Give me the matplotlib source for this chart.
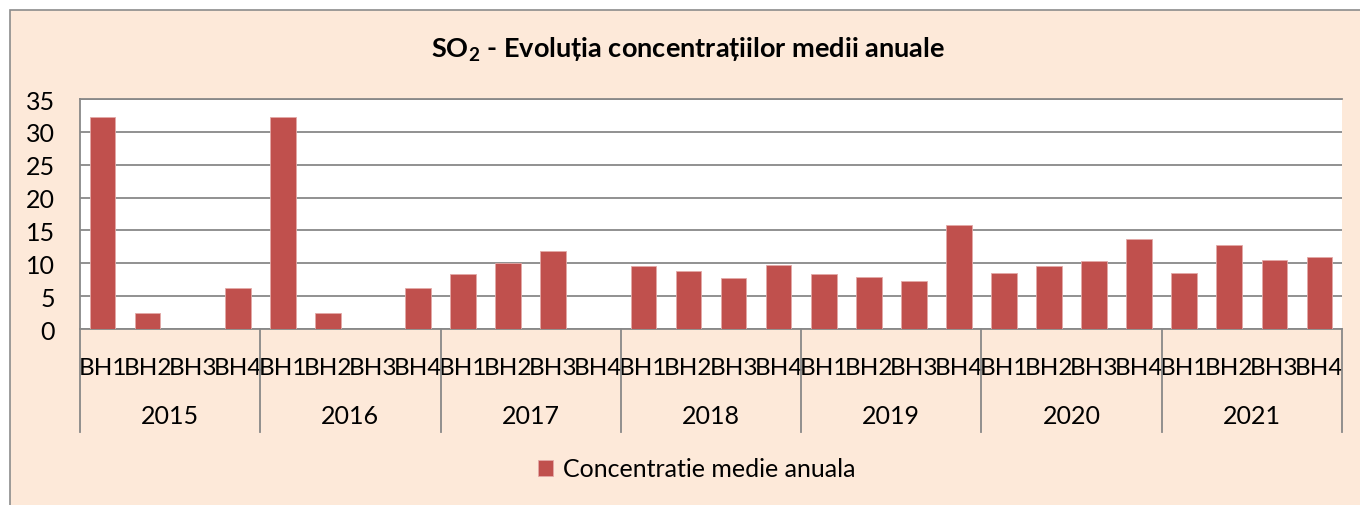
import matplotlib
matplotlib.use("Agg")
import matplotlib.pyplot as plt
import matplotlib.transforms as mtransforms
from matplotlib.patches import Rectangle
import numpy as np

plt.rcParams['font.family'] = ['Lato', 'Noto Sans', 'DejaVu Sans']
plt.rcParams['mathtext.fontset'] = 'custom'
plt.rcParams['mathtext.rm'] = 'Lato'
plt.rcParams['mathtext.bf'] = 'Lato:bold'

years = ['2015', '2016', '2017', '2018', '2019', '2020', '2021']
stations = ['BH1', 'BH2', 'BH3', 'BH4']
values_2015 = [32.2, 2.4, 0, 6.2]
values_2016 = [32.2, 2.4, 0, 6.2]
values_2017 = [8.4, 10.0, 11.9, 0]
values_2018 = [9.6, 8.8, 7.8, 9.8]
values_2019 = [8.3, 7.9, 7.3, 15.9]
values_2020 = [8.5, 9.6, 10.35, 13.7]
values_2021 = [8.5, 12.8, 10.5, 10.9]
series_name = 'Concentratie medie anuala'
title = r'SO$_\mathbf{2}$ - Evoluția concentrațiilor medii anuale'
yticks = [0, 5, 10, 15, 20, 25, 30, 35]

all_values = (values_2015 + values_2016 + values_2017 + values_2018 +
              values_2019 + values_2020 + values_2021)
labels = stations * len(years)

W, H = 1360, 506
fig = plt.figure(figsize=(W / 100, H / 100), dpi=100, facecolor='white')

bg = '#FDE9D9'
fig.patches.append(Rectangle((10 / W, -0.05), 1.2, (H - 11) / H + 0.05,
                             transform=fig.transFigure, facecolor=bg,
                             edgecolor='#8C8C8C', linewidth=1.2, zorder=-10))

ax = fig.add_axes([80 / W, 1 - 330 / H, (1342 - 80) / W, 230 / H])
ax.set_zorder(2)
ax.set_facecolor('white')
grid_c = '#888888'
x = np.arange(len(all_values))
bars = ax.bar(x, all_values, width=0.57, color='#C0504D', edgecolor='#E3A9A7',
              linewidth=0.6, zorder=3, label=series_name)
ax.set_xlim(-0.5, len(all_values) - 0.5)
ax.set_ylim(0, 35)
ax.set_yticks(yticks)
ax.set_yticklabels([str(v) for v in yticks], fontsize=18)
ax.yaxis.grid(True, color=grid_c, linewidth=1.3, zorder=1)
ax.tick_params(axis='y', length=0, pad=18)

ax.set_xticks(x)
ax.set_xticklabels(labels, fontsize=17.5)
ax.tick_params(axis='x', length=0, pad=20)

ax.spines['right'].set_visible(False)
for s in ['left', 'bottom', 'top']:
    ax.spines[s].set_color(grid_c)
    ax.spines[s].set_linewidth(1.3)

trans = mtransforms.blended_transform_factory(ax.transData, ax.transAxes)
n = len(stations)
for i in range(len(years) + 1):
    ax.plot([i * n - 0.5, i * n - 0.5], [0, -103 / 230], transform=trans,
            color=grid_c, linewidth=1.3, clip_on=False)
for i, yr in enumerate(years):
    ax.text(i * n + (n - 1) / 2, -87 / 230, yr, transform=trans, ha='center',
            va='center', fontsize=18)

fig.text(688 / W, 1 - 50 / H, title, ha='center', va='center', fontsize=19.5,
         fontweight='bold')

fig.legend(handles=[bars], labels=[series_name], loc='center',
           bbox_to_anchor=(697 / W, 1 - 470 / H), frameon=False, fontsize=18,
           handlelength=0.6, handleheight=0.6, handletextpad=0.4)

fig.savefig('out.png', dpi=100, facecolor='white')
